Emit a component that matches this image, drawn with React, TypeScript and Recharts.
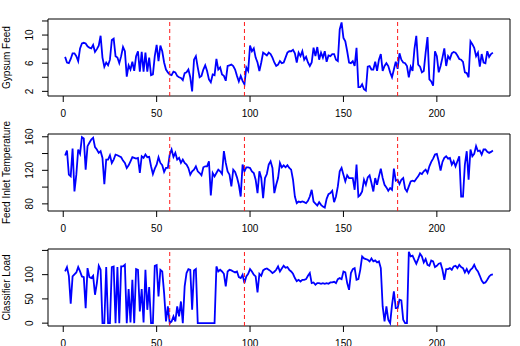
import { LineChart, Line, XAxis, YAxis, ReferenceLine, ReferenceArea } from 'recharts';

// readings per sample index (1..230)
const gypsumFeed = [
  6.9, 6.1, 6.0, 6.6, 7.4, 7.4, 7.0, 6.3, 8.1, 8.8,
  8.9, 8.8, 8.4, 8.2, 8.1, 8.6, 7.6, 8.0, 8.5, 9.9,
  6.8, 5.5, 6.1, 5.7, 6.5, 9.3, 9.5, 7.0, 6.8, 6.0,
  7.0, 8.3, 7.7, 4.1, 5.7, 5.1, 6.2, 4.9, 7.0, 7.7,
  4.8, 7.6, 4.8, 7.5, 4.8, 6.8, 4.3, 4.4, 7.0, 8.6,
  6.3, 8.5, 7.7, 6.1, 5.1, 4.7, 4.4, 4.3, 4.8, 4.7,
  4.2, 4.0, 3.9, 3.6, 4.6, 4.7, 5.1, 4.0, 2.0, 6.5,
  7.0, 5.4, 4.0, 4.2, 5.1, 5.7, 4.9, 3.7,
  3.3, 4.4, 4.3, 6.6, 5.1, 5.4, 4.4, 4.2, 3.5, 5.6, 5.7, 5.8,
  5.6, 5.1, 4.2, 3.4, 4.2, 3.5, 3.0, 5.4, 4.9, 8.5,
  7.7, 8.1, 6.8, 6.1, 4.9, 6.1, 7.5, 7.3, 7.1, 7.5,
  7.3, 6.8, 6.1, 5.6, 5.8, 6.3, 6.0, 6.1, 6.8, 7.5,
  7.7, 7.7, 7.9, 7.4, 6.1, 7.5, 7.0, 7.7, 6.5, 6.9,
  6.1, 5.6, 6.1, 8.2, 7.0, 8.3, 6.5, 7.5, 6.8, 7.7,
  6.2, 7.1, 7.0, 7.3, 7.3, 6.5, 6.3, 10.8, 11.8, 9.6,
  9.1, 7.7, 6.1, 6.0, 6.3, 5.6, 8.2, 2.6,
  2.6, 3.0, 2.3, 2.1, 5.5, 5.6, 5.1, 5.1, 6.2, 4.9, 6.5, 7.3,
  4.9, 5.6, 6.0, 5.6, 4.7, 4.0, 5.1, 6.2, 5.2, 7.4,
  6.5, 6.1, 6.0, 5.6, 4.0, 5.5, 4.9, 8.0, 9.9, 5.8,
  5.5, 4.7, 4.9, 7.5, 9.7, 3.7, 3.4, 2.8, 7.7, 7.0,
  4.7, 5.6, 6.8, 8.1, 5.6, 7.0, 6.6, 7.4, 7.6, 7.5,
  7.1, 6.6, 6.5, 6.2, 4.7, 4.6, 4.0, 9.1, 8.7, 8.2,
  7.0, 7.5, 5.5, 7.3, 6.1, 6.0, 7.7, 6.9, 7.3, 7.5,
];

const feedInletTemp = [
  137.6, 143.6, 114.8, 112.8, 146, 94.8, 114.8, 144.8, 139.6, 159.6,
  158, 120.8, 148.8, 152.8, 156.8, 158.8, 147.6, 144.8, 140.8, 142.8,
  134.8, 103.6, 132.8, 132.8, 138, 128.8, 132.8, 138.8, 138, 136.8,
  135.6, 131.6, 128.8, 122.8, 126, 130.8, 135.6, 134.8, 134, 134.8,
  116.8, 136.8, 134.8, 138.8, 135.6, 136, 124.8, 115.6, 122, 126.8,
  135.6, 128.8, 126, 118, 122.8, 122.8, 138.8, 144.8, 136, 140.8,
  132.8, 134.8, 128.8, 132.8, 128.8, 126.8, 122.8, 114.8, 118.8, 120.8,
  124.8, 118.8, 116.8, 114, 123.6, 124.8, 124.8, 130.8,
  90, 116.8, 112.8, 116.8, 120.8, 118.8, 115.6, 142.8, 128.8, 118.8, 114.8, 100.8,
  120.8, 118, 111.6, 102.8, 88.8, 126.8, 118.8, 123.6, 123.6, 122.8,
  118.8, 116.8, 108.8, 92.8, 118.8, 110.8, 86.8, 110.8, 115.6, 126.8,
  130.8, 122.8, 92.8, 102.8, 110.8, 128.8, 123.6, 126, 123.6, 126,
  122.8, 120.8, 108.8, 88.8, 80.8, 82.8, 82, 82.8, 82, 80.8,
  83.6, 88.8, 96.8, 82.8, 80.4, 78, 82, 78.8, 76.8, 75.6,
  86, 91.6, 92.8, 95.6, 82, 88.8, 100.8, 118.8, 122.8, 114.8,
  106.8, 114, 110.8, 110.8, 110.8, 96.8, 126.8, 88.8,
  90.8, 94.8, 108.8, 102.8, 111.6, 114, 104.8, 94.8, 110.8, 102.8, 112.8, 122,
  110.8, 102.8, 99.6, 95.6, 98.8, 96.8, 122, 107.6, 108.8, 103.6,
  108.8, 110.8, 98, 94.8, 100.8, 106.8, 107.6, 106.8, 110, 112.8,
  116.8, 115.6, 118.8, 120.8, 116.8, 124.8, 130, 134, 138.8, 139.6,
  130.8, 119.6, 130, 134.8, 136.8, 134, 134.8, 126.8, 130.8, 124.8,
  130.8, 136.8, 88.8, 88.8, 126.8, 142.8, 108.8, 144.8, 136.8, 139.6,
  148.8, 142.8, 143.6, 138.8, 144.8, 144.8, 142, 140.8, 142, 143.6,
];

const classifierLoad = [
  106.6, 115.6, 97.7, 39.9, 96.3, 100.4, 104.6, 115.6, 106.6, 96.3,
  94.9, 31, 113.5, 94.9, 92.9, 97.7, 58.5, 82.6, 118.3, 110,
  0, 0, 115.6, 0, 0, 115.6, 117, 0, 115.6, 0,
  117, 117, 120.4, 0, 70.2, 1.4, 89.4, 0, 111.5, 110,
  24, 70.2, 1.4, 110, 27.5, 74.3, 0, 0, 118.3, 119.7,
  55, 110, 106.6, 61.9, 3.4, 34.4, 0, 3.4, 13.8, 3.4,
  34.4, 13.8, 44.7, 0, 75.7, 103.2, 111.5, 110, 27.5, 108.7,
  111.5, 0, 0, 0, 0, 0, 0, 0, 0, 0,
  0, 117, 106.6, 110, 106.6, 101.8, 75.7, 106.6, 110, 108.7,
  106.6, 104.6, 106.6, 94.9, 92.9, 99.8, 82.6, 96.3, 101.8, 111.5,
  106.6, 99.8, 96.3, 63.3, 101.8, 97.7, 108.7, 111.5, 112.8, 110,
  107.3, 103.2, 106, 110, 117, 106.6, 112.8, 118.3, 114.2, 115.6,
  110, 106.6, 101.8, 92.9, 86.7, 89.4, 86, 89.4, 89.4, 90.8,
  97.7, 103.2, 82.6, 83.9, 79.1, 82.6, 82.6, 81.2, 82.6, 81.2,
  82.6, 81.2, 83.9, 83.9, 85.3, 82.6, 90.8, 92.9, 90.8, 106.6,
  104.6, 82.6, 68.8, 103.2, 111.5, 113.5, 89.4, 90.8, 110, 137.6,
  133.4, 132.1, 130.7, 127.3, 133.4, 127.3, 129.3, 125.2, 127.3, 113.5,
  34.4, 3.4, 34.4, 6.9, 0, 37.8, 65.4, 31, 31, 48.2,
  46.8, 6.9, 0, 0, 147, 137.6, 139, 130.7, 122.5, 132.1,
  143.1, 137.6, 125.2, 132.1, 120.4, 118.3, 129.3, 127.3, 115.6, 118.3,
  122.5, 123.8, 110, 89.4, 111.5, 111.5, 113.5, 110, 117, 118.3,
  113.5, 120.4, 115.6, 113.5, 104.6, 111.5, 103.2, 110, 113.5, 120.4,
  111.5, 106.6, 97.7, 88, 82.6, 83.9, 89.4, 96.3, 99.8, 100.4,
];

const changePoints = [57, 97, 179];
const xTicks = [0, 50, 100, 150, 200];

const gypsumTicks = [2, 4, 6, 8, 10, 12];
const gypsumLabels = [2, 6, 10];
const tempTicks = [80, 100, 120, 140, 160];
const tempLabels = [80, 120, 160];
const loadTicks = [0, 50, 100, 150];
const loadLabels = [0, 50, 100];

const rows = gypsumFeed.map((g, i) => ({
  idx: i + 1,
  gypsum: g,
  temp: feedInletTemp[i],
  load: classifierLoad[i],
}));

const FONT = '"Liberation Sans", Arial, Helvetica, sans-serif';
const xDomain: [number, number] = [-8.16, 239.16];

const YTick = ({ y, payload, labels }: any) => {
  if (!labels.includes(payload.value)) return null;
  return (
    <text x={33} y={y} transform={`rotate(-90, 33, ${y})`} textAnchor="middle" fontSize={10} fill="#000" fontFamily={FONT}>
      {payload.value}
    </text>
  );
};

function Panel({ top, dataKey, domain, ticks, labels }: any) {
  return (
    <div style={{ position: 'absolute', left: 0, top, width: 520, height: 126 }}>
      <LineChart width={520} height={126} data={rows} margin={{ top: 19, right: 10, bottom: 0, left: 0 }}>
        <XAxis
          type="number"
          dataKey="idx"
          domain={xDomain}
          ticks={xTicks}
          interval={0}
          allowDataOverflow
          height={30}
          tickSize={6}
          tickMargin={8}
          axisLine={false}
          stroke="#000"
          tick={{ fontSize: 10, fill: '#000', fontFamily: FONT }}
        />
        <YAxis
          type="number"
          domain={domain}
          ticks={ticks}
          interval={0}
          allowDataOverflow
          width={48}
          tickSize={6}
          axisLine={false}
          stroke="#000"
          tick={<YTick labels={labels} />}
        />
        <ReferenceArea x1={xDomain[0]} x2={xDomain[1]} y1={domain[0]} y2={domain[1]} fill="none" stroke="#000" fillOpacity={0} />
        <Line type="linear" dataKey={dataKey} stroke="#0000ff" strokeWidth={1.8} dot={false} isAnimationActive={false} />
        {changePoints.map((c) => (
          <ReferenceLine key={c} x={c} stroke="#ff1a1a" strokeWidth={1} strokeDasharray="4 3" />
        ))}
      </LineChart>
    </div>
  );
}

const titles = ['Gypsum Feed', 'Feed Inlet Temperature', 'Classifier Load'];

export default function App() {
  return (
    <div style={{ position: 'absolute', left: 0, top: 0, width: 520, height: 346, overflow: 'hidden', background: '#fff' }}>
      <Panel top={0} dataKey="gypsum" domain={[1.34, 12.28]} ticks={gypsumTicks} labels={gypsumLabels} />
      <Panel top={115} dataKey="temp" domain={[71.5, 163.3]} ticks={tempTicks} labels={tempLabels} />
      <Panel top={230} dataKey="load" domain={[-5.88, 152.9]} ticks={loadTicks} labels={loadLabels} />
      <svg width={520} height={346} style={{ position: 'absolute', left: 0, top: 0, pointerEvents: 'none' }}>
        {titles.map((t, k) => {
          const cy = k * 115 + 57.5;
          return (
            <text key={t} x={9.5} y={cy} transform={`rotate(-90, 9.5, ${cy})`} textAnchor="middle" fontSize={10} fill="#000" fontFamily={FONT}>
              {t}
            </text>
          );
        })}
      </svg>
    </div>
  );
}
